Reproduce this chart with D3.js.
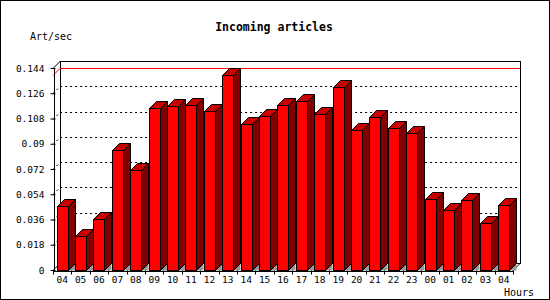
<!DOCTYPE html>
<html>
<head>
<meta charset="utf-8">
<script src="https://cdn.jsdelivr.net/npm/d3@7"></script>
<style>
  body { margin: 0; background: #fff; }
  text { font-family: "DejaVu Sans Mono", monospace; }
</style>
</head>
<body>
<div id="chart"></div>
<script>
// hours on the x axis (24h window, starts and ends at 04)
var hours = ["04","05","06","07","08","09","10","11","12","13","14","15","16","17","18","19","20","21","22","23","00","01","02","03","04"];
// incoming articles per second
var values = [0.0455,0.0242,0.0363,0.0853,0.0711,0.1157,0.1166,0.1173,0.1131,0.1387,0.1038,0.1095,0.1173,0.1202,0.1109,0.1301,0.0996,0.1088,0.1010,0.0974,0.0505,0.0427,0.0498,0.0334,0.0462];
var yTicks = [0,0.018,0.036,0.054,0.072,0.09,0.108,0.126,0.144];
var yTickLabels = ["0","0.018","0.036","0.054","0.072","0.09","0.108","0.126","0.144"];

var W = 550, H = 300;
var depth = 7;   // 3d offset, right and up

var svg = d3.select("#chart").append("svg")
  .attr("width", W)
  .attr("height", H);

// frame
svg.append("rect")
  .attr("x", 0.5).attr("y", 0.5)
  .attr("width", W - 1).attr("height", H - 1)
  .attr("fill", "#fff").attr("stroke", "#000");

var x = d3.scaleBand()
  .domain(d3.range(hours.length))
  .range([53, 513])
  .paddingInner(0.4)
  .paddingOuter(0.2);

var y = d3.scaleLinear()
  .domain([0, 0.144])
  .range([270, 68]);

var x0 = x.range()[0], x1 = x.range()[1];
var yTop = y(0.144), yBot = y(0);

// back wall
svg.append("rect")
  .attr("x", x0 + depth + 0.5).attr("y", yTop - depth + 0.5)
  .attr("width", x1 - x0).attr("height", yBot - yTop)
  .attr("fill", "#fff").attr("stroke", "#000")
  .attr("shape-rendering", "crispEdges");

// dotted gridlines on the back wall, with their depth segment
var grid = svg.append("g").attr("stroke", "#000").attr("stroke-dasharray", "2,3").attr("fill", "none");
yTicks.slice(1, -1).forEach(function (v) {
  var yy = Math.round(y(v)) - depth + 0.5;
  grid.append("path")
    .attr("d", "M" + x0 + "," + (yy + depth) + "L" + (x0 + depth) + "," + yy + "L" + (x1 + depth) + "," + yy);
});

// max line in red
var maxV = d3.max(values);
var ym = Math.round(y(maxV)) + 0.5;
svg.append("path")
  .attr("d", "M" + x0 + "," + ym + "L" + (x0 + depth) + "," + (ym - depth) + "L" + (x1 + depth) + "," + (ym - depth))
  .attr("fill", "none").attr("stroke", "#ff0000");

// floor edges
svg.append("path")
  .attr("d", "M" + x0 + "," + (yBot + 0.5) + "L" + (x0 + depth) + "," + (yBot - depth + 0.5) +
             "M" + x1 + "," + (yBot + 0.5) + "L" + (x1 + depth) + "," + (yBot - depth + 0.5))
  .attr("fill", "none").attr("stroke", "#000");

// bars
var bars = svg.append("g").selectAll("g")
  .data(values)
  .enter().append("g");

bars.each(function (d, i) {
  var g = d3.select(this);
  var bx = Math.round(x(i)) + 0.5, bw = Math.round(x.bandwidth());
  var by = Math.round(y(d)) + 0.5, b0 = yBot + 0.5;
  // floor shadow
  g.append("path")
    .attr("d", "M" + (bx + bw) + "," + b0 + "L" + (bx + bw + depth) + "," + (b0 - depth) + "L" + (bx + bw + depth) + "," + b0 + "Z")
    .attr("fill", "#999");
  // side
  g.append("path")
    .attr("d", "M" + (bx + bw) + "," + by + "L" + (bx + bw + depth) + "," + (by - depth) +
               "L" + (bx + bw + depth) + "," + (b0 - depth) + "L" + (bx + bw) + "," + b0 + "Z")
    .attr("fill", "#800000").attr("stroke", "#000");
  // top
  g.append("path")
    .attr("d", "M" + bx + "," + by + "L" + (bx + depth) + "," + (by - depth) +
               "L" + (bx + bw + depth) + "," + (by - depth) + "L" + (bx + bw) + "," + by + "Z")
    .attr("fill", "#c80000").attr("stroke", "#000");
  // front
  g.append("rect")
    .attr("x", bx).attr("y", by)
    .attr("width", bw).attr("height", b0 - by)
    .attr("fill", "#ff0000").attr("stroke", "#000");
});

// y axis
var yAxis = svg.append("g")
  .attr("transform", "translate(" + (x0 + 0.5) + ",0)")
  .call(d3.axisLeft(y).tickValues(yTicks)
    .tickFormat(function (d, i) { return yTickLabels[i]; })
    .tickSize(3).tickSizeOuter(0).tickPadding(6));
yAxis.select(".domain").attr("shape-rendering", "crispEdges");
yAxis.selectAll(".tick line").attr("x2", 2).attr("x1", -3);
yAxis.selectAll("text").style("font-size", "9.5px").attr("fill", "#000");
yAxis.selectAll("path, line").attr("stroke", "#000");

// top-left corner link
svg.append("line")
  .attr("x1", x0 + 0.5).attr("y1", yTop)
  .attr("x2", x0 + depth + 0.5).attr("y2", yTop - depth)
  .attr("stroke", "#000");

// x axis: labels centred in bands, ticks on band boundaries
var xAxis = svg.append("g")
  .attr("transform", "translate(0," + (yBot + 0.5) + ")")
  .call(d3.axisBottom(x)
    .tickFormat(function (i) { return hours[i]; })
    .tickSize(0).tickPadding(6));
xAxis.select(".domain").attr("stroke", "#000").attr("shape-rendering", "crispEdges");
xAxis.selectAll("text").style("font-size", "9.5px").attr("fill", "#000");

xAxis.selectAll(".bound")
  .data(d3.range(hours.length + 1))
  .enter().append("line")
  .attr("class", "bound")
  .attr("x1", function (i) { return Math.round(x0 + i * x.step()) + 0.5; })
  .attr("x2", function (i) { return Math.round(x0 + i * x.step()) + 0.5; })
  .attr("y1", 0).attr("y2", 4)
  .attr("stroke", "#000");

// titles
svg.append("text")
  .attr("x", 274).attr("y", 31)
  .attr("text-anchor", "middle")
  .style("font-size", "11.5px").style("font-weight", "bold")
  .text("Incoming articles");

svg.append("text")
  .attr("x", 30).attr("y", 40)
  .style("font-size", "10px")
  .text("Art/sec");

svg.append("text")
  .attr("x", 504).attr("y", 296)
  .style("font-size", "10px")
  .text("Hours");
</script>
</body>
</html>
